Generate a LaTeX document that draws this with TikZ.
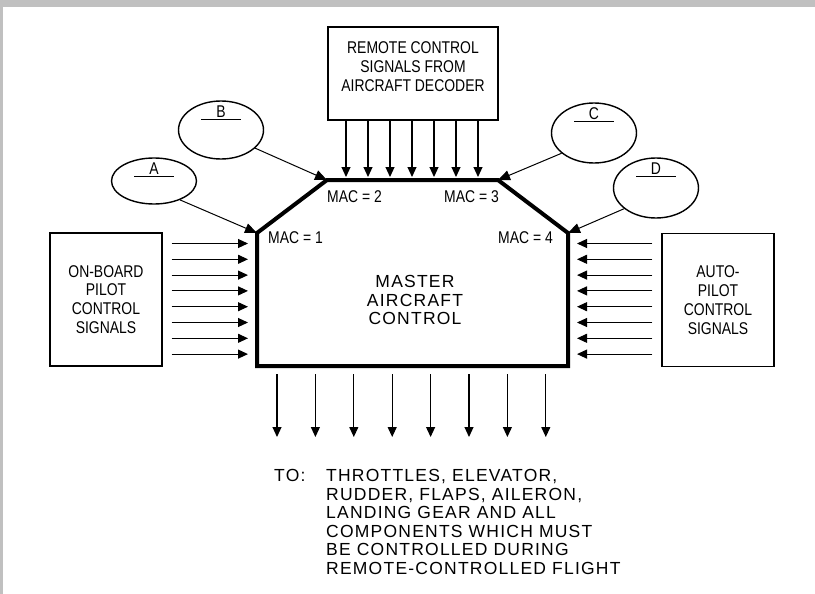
\documentclass[tikz,border=0pt]{standalone}
\usepackage{fontspec}
\setmainfont{Liberation Sans}
\newfontfamily\narrowfont{Liberation Sans}[FakeStretch=0.82]
\newfontfamily\widefont{Liberation Sans}[LetterSpace=7]
\usetikzlibrary{arrows.meta,shapes,positioning,calc}
\definecolor{framegray}{RGB}{192,192,192}
\newcommand{\narrowtext}{\narrowfont\fontsize{17}{18.8}\selectfont}
\newcommand{\widetext}{\widefont\fontsize{17.5}{18.6}\selectfont}
\tikzset{
    signal/.style={-{Triangle[length=10pt, width=9pt]}, line width=1.1pt},
    feed/.style={-{Triangle[length=12pt, width=10pt]}, line width=1pt},
    sigbox/.style={draw, line width=1.3pt, minimum width=112pt, minimum height=133pt, align=center, font=\narrowtext},
    boxtext/.style={align=center, font=\narrowtext},
    blank/.style={draw, ellipse, line width=1.4pt, minimum width=85pt},
    mac/.style={font=\narrowtext, inner sep=0pt},
    master/.style={line width=4pt, line join=miter},
    plain/.style={font=\widetext, align=left, inner sep=0pt}
}

\begin{document}
\begin{tikzpicture}[x=1pt, y=-1pt]
    \useasboundingbox (0,0) rectangle (815,594);
    \fill[framegray] (0,0) rectangle (815,7);
    \fill[framegray] (0,0) rectangle (3,594);

    % master aircraft control
    \coordinate (m1) at (257,233);
    \coordinate (m2) at (327,180);
    \coordinate (m3) at (498,180);
    \coordinate (m4) at (568,233);
    \coordinate (m5) at (568,366);
    \coordinate (m6) at (257,366);
    \draw[master] (m1) -- (m2) -- (m3) -- (m4) -- (m5) -- (m6) -- cycle;
    \node[font=\widetext, align=center] (mac) at (415,300) {MASTER\\AIRCRAFT\\CONTROL};

    \node[mac, anchor=west] (mac1) at (268,238) {MAC = 1};
    \node[mac, anchor=west] (mac2) at (327,197) {MAC = 2};
    \node[mac, anchor=east] (mac3) at (499,197) {MAC = 3};
    \node[mac, anchor=east] (mac4) at (553,238) {MAC = 4};

    % signal sources
    \node[sigbox, minimum width=170pt, minimum height=93pt] (remote) at (413,73.5) {};
    \node[boxtext] (remotetext) at ($(remote.center)+(0,-7)$) {REMOTE CONTROL\\SIGNALS FROM\\AIRCRAFT DECODER};
    \node[sigbox] (onboard) at (106,299.5) {ON-BOARD\\PILOT\\CONTROL\\SIGNALS};
    \node[sigbox] (auto) at (718,300) {AUTO-\\PILOT\\CONTROL\\SIGNALS};

    % blanks
    \foreach \n/\x/\y/\h in {A/154/181/46, B/221/130/58, C/594/133/60, D/656/188/60}{
        \node[blank, minimum height=\h pt] (e\n) at (\x,\y) {};
        \draw[line width=1pt] ($(e\n.north)+(-20,19)$) -- ($(e\n.north)+(20,19)$)
            node[midway, above=1pt, mac] {\n};
    }
    \draw[feed] (eA.-36) -- (m1);
    \draw[feed] (eB.-28) -- (m2);
    \draw[feed] (eC.-148) -- (m3);
    \draw[feed] (eD.-147) -- (m4);

    \foreach \k in {0,...,6}{
        \coordinate (top\k) at ({346+22*\k},177);
        \draw[signal] (remote.south -| top\k) -- (top\k);
    }
    \foreach \k in {0,...,7}{
        \coordinate (row\k) at (0,{243.5+15.8*\k});
        \draw[signal] ($(onboard.east |- row\k)+(9,0)$) -- ($(m1 |- row\k)+(-9,0)$);
        \draw[signal] ($(auto.west |- row\k)+(-9,0)$) -- ($(m4 |- row\k)+(9,0)$);
        \coordinate (out\k) at ({277+38.4*\k},437);
        \draw[signal] ($(m6 -| out\k)+(0,8)$) -- (out\k);
    }

    % destinations
    \node[plain, anchor=north west] (to) at (274,469) {TO:};
    \node[plain, anchor=north west] (dest) at ($(to.north west)+(52,0)$)
        {THROTTLES, ELEVATOR,\\RUDDER, FLAPS, AILERON,\\LANDING GEAR AND ALL\\COMPONENTS WHICH MUST\\BE CONTROLLED DURING\\REMOTE-CONTROLLED FLIGHT};
\end{tikzpicture}
\end{document}
